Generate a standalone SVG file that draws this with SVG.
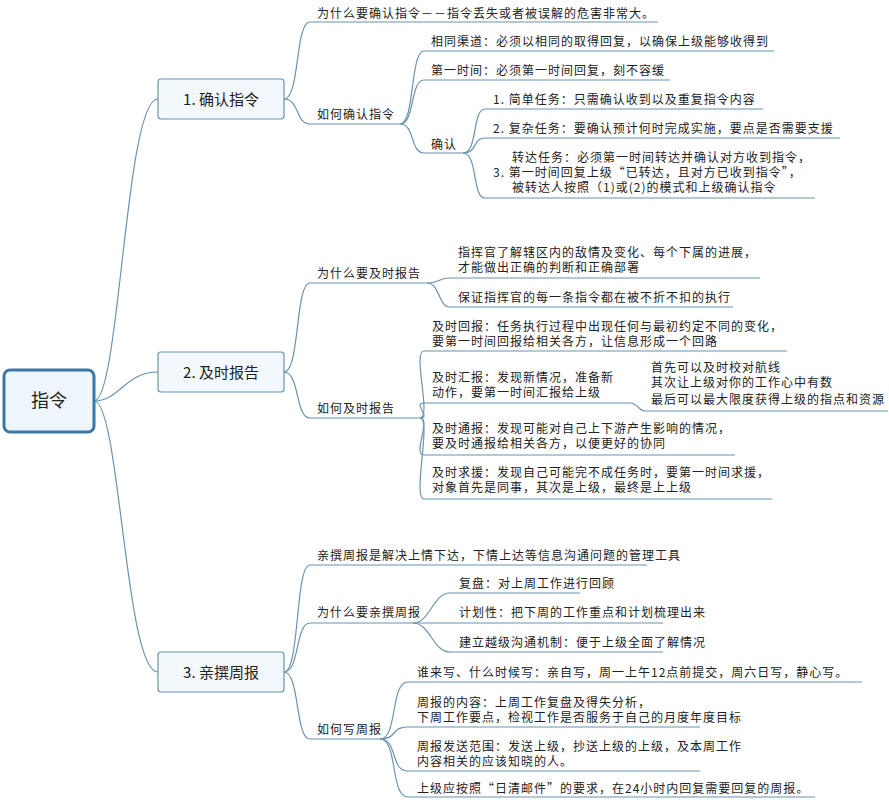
<svg xmlns="http://www.w3.org/2000/svg" width="889" height="800" viewBox="0 0 889 800">
<style>
text{font-family:"Noto Sans CJK SC","Liberation Sans",sans-serif;fill:#222;}
.t{font-size:12px;letter-spacing:1px;}
.b{font-size:15px;}
.c path,.u{fill:none;stroke:#6b93b0;stroke-width:1.2;}
.box{fill:#f3f8fc;stroke:#6b93b0;stroke-width:1.2;}
</style>
<rect width="889" height="800" fill="#fff"/>
<g id="connectors" class="c">
<path d="M94 401 C120 401 125 99 158 99"/>
<path d="M94 401 C120 401 125 372 158 372"/>
<path d="M94 401 C120 401 125 672 158 672"/>
<path d="M284 99 C300 99 295 22 310 22 H658"/>
<path d="M284 99 C300 99 295 124 310 124 H400"/>
<path d="M400 124 C415 124 410 51 424 51 H774"/>
<path d="M400 124 C415 124 410 80 424 80 H670"/>
<path d="M400 124 C415 124 410 153 424 153 H463"/>
<path d="M463 153 C478 153 472 109 485 109 H763"/>
<path d="M463 153 C478 153 472 138 485 138 H840"/>
<path d="M463 153 C478 153 472 198 485 198 H815"/>
<path d="M284 372 C300 372 295 283 310 283 H427"/>
<path d="M284 372 C300 372 295 418 310 418 H420"/>
<path d="M427 283 C440 283 438 278 450 278 H760"/>
<path d="M427 283 C440 283 438 307 450 307 H733"/>
<path d="M420 418 C432 418 412 351 424 351 H787"/>
<path d="M420 418 C432 418 412 403 424 403 H630"/>
<path d="M630 403 C638 403 638 411 645 411 H888"/>
<path d="M420 418 C432 418 412 455 424 455 H735"/>
<path d="M420 418 C432 418 412 499 424 499 H772"/>
<path d="M284 672 C300 672 295 565 310 565 H647"/>
<path d="M284 672 C300 672 295 623 310 623 H413"/>
<path d="M284 672 C300 672 295 739 310 739 H380"/>
<path d="M413 623 C430 623 433 593 450 593 H580"/>
<path d="M413 623 C430 623 433 623 450 623 H663"/>
<path d="M413 623 C430 623 433 652 450 652 H663"/>
<path d="M380 739 C398 739 390 682 408 682 H862"/>
<path d="M380 739 C398 739 390 727 408 727 H700"/>
<path d="M380 739 C398 739 390 771 408 771 H700"/>
<path d="M380 739 C398 739 390 797 408 797 H815"/>
</g>
<g id="root"><rect x="4" y="370" width="90" height="62" rx="6" fill="#eef5fb" stroke="#3b78a8" stroke-width="3"/><text x="49" y="407" font-size="18" text-anchor="middle">指令</text></g>
<g id="n1"><rect class="box" x="158" y="79" width="126" height="40" rx="3"/><text class="b" x="221" y="105" text-anchor="middle">1. 确认指令</text></g>
<g id="n2"><rect class="box" x="158" y="352" width="126" height="40" rx="3"/><text class="b" x="221" y="378" text-anchor="middle">2. 及时报告</text></g>
<g id="n3"><rect class="box" x="158" y="652" width="126" height="40" rx="3"/><text class="b" x="221" y="678" text-anchor="middle">3. 亲撰周报</text></g>
<g id="leaves" class="t">
<text x="317" y="18">为什么要确认指令－－指令丢失或者被误解的危害非常大。</text>
<text x="317" y="119">如何确认指令</text>
<text x="431" y="46">相同渠道：必须以相同的取得回复，以确保上级能够收得到</text>
<text x="431" y="75">第一时间：必须第一时间回复，刻不容缓</text>
<text x="431" y="149">确认</text>
<text x="493" y="104">1. 简单任务：只需确认收到以及重复指令内容</text>
<text x="493" y="133">2. 复杂任务：要确认预计何时完成实施，要点是否需要支援</text>
<text x="512" y="162">转达任务：必须第一时间转达并确认对方收到指令，</text>
<text x="493" y="177">3. 第一时间回复上级“已转达，且对方已收到指令”，</text>
<text x="512" y="192">被转达人按照（1)或(2)的模式和上级确认指令</text>
<text x="317" y="278">为什么要及时报告</text>
<text x="458" y="257">指挥官了解辖区内的敌情及变化、每个下属的进展，</text>
<text x="458" y="272">才能做出正确的判断和正确部署</text>
<text x="458" y="302">保证指挥官的每一条指令都在被不折不扣的执行</text>
<text x="317" y="413">如何及时报告</text>
<text x="432" y="331">及时回报：任务执行过程中出现任何与最初约定不同的变化，</text>
<text x="432" y="346">要第一时间回报给相关各方，让信息形成一个回路</text>
<text x="432" y="382">及时汇报：发现新情况，准备新</text>
<text x="432" y="397">动作，要第一时间汇报给上级</text>
<text x="651" y="372">首先可以及时校对航线</text>
<text x="651" y="387">其次让上级对你的工作心中有数</text>
<text x="651" y="404">最后可以最大限度获得上级的指点和资源</text>
<text x="432" y="433">及时通报：发现可能对自己上下游产生影响的情况，</text>
<text x="432" y="448">要及时通报给相关各方，以便更好的协同</text>
<text x="432" y="477">及时求援：发现自己可能完不成任务时，要第一时间求援，</text>
<text x="432" y="492">对象首先是同事，其次是上级，最终是上上级</text>
<text x="317" y="560">亲撰周报是解决上情下达，下情上达等信息沟通问题的管理工具</text>
<text x="317" y="617">为什么要亲撰周报</text>
<text x="459" y="588">复盘：对上周工作进行回顾</text>
<text x="459" y="617">计划性：把下周的工作重点和计划梳理出来</text>
<text x="459" y="647">建立越级沟通机制：便于上级全面了解情况</text>
<text x="317" y="734">如何写周报</text>
<text x="417" y="677">谁来写、什么时候写：亲自写，周一上午12点前提交，周六日写，静心写。</text>
<text x="417" y="707">周报的内容：上周工作复盘及得失分析，</text>
<text x="417" y="722">下周工作要点，检视工作是否服务于自己的月度年度目标</text>
<text x="417" y="751">周报发送范围：发送上级，抄送上级的上级，及本周工作</text>
<text x="417" y="766">内容相关的应该知晓的人。</text>
<text x="417" y="793">上级应按照“日清邮件”的要求，在24小时内回复需要回复的周报。</text>
</g>
</svg>
